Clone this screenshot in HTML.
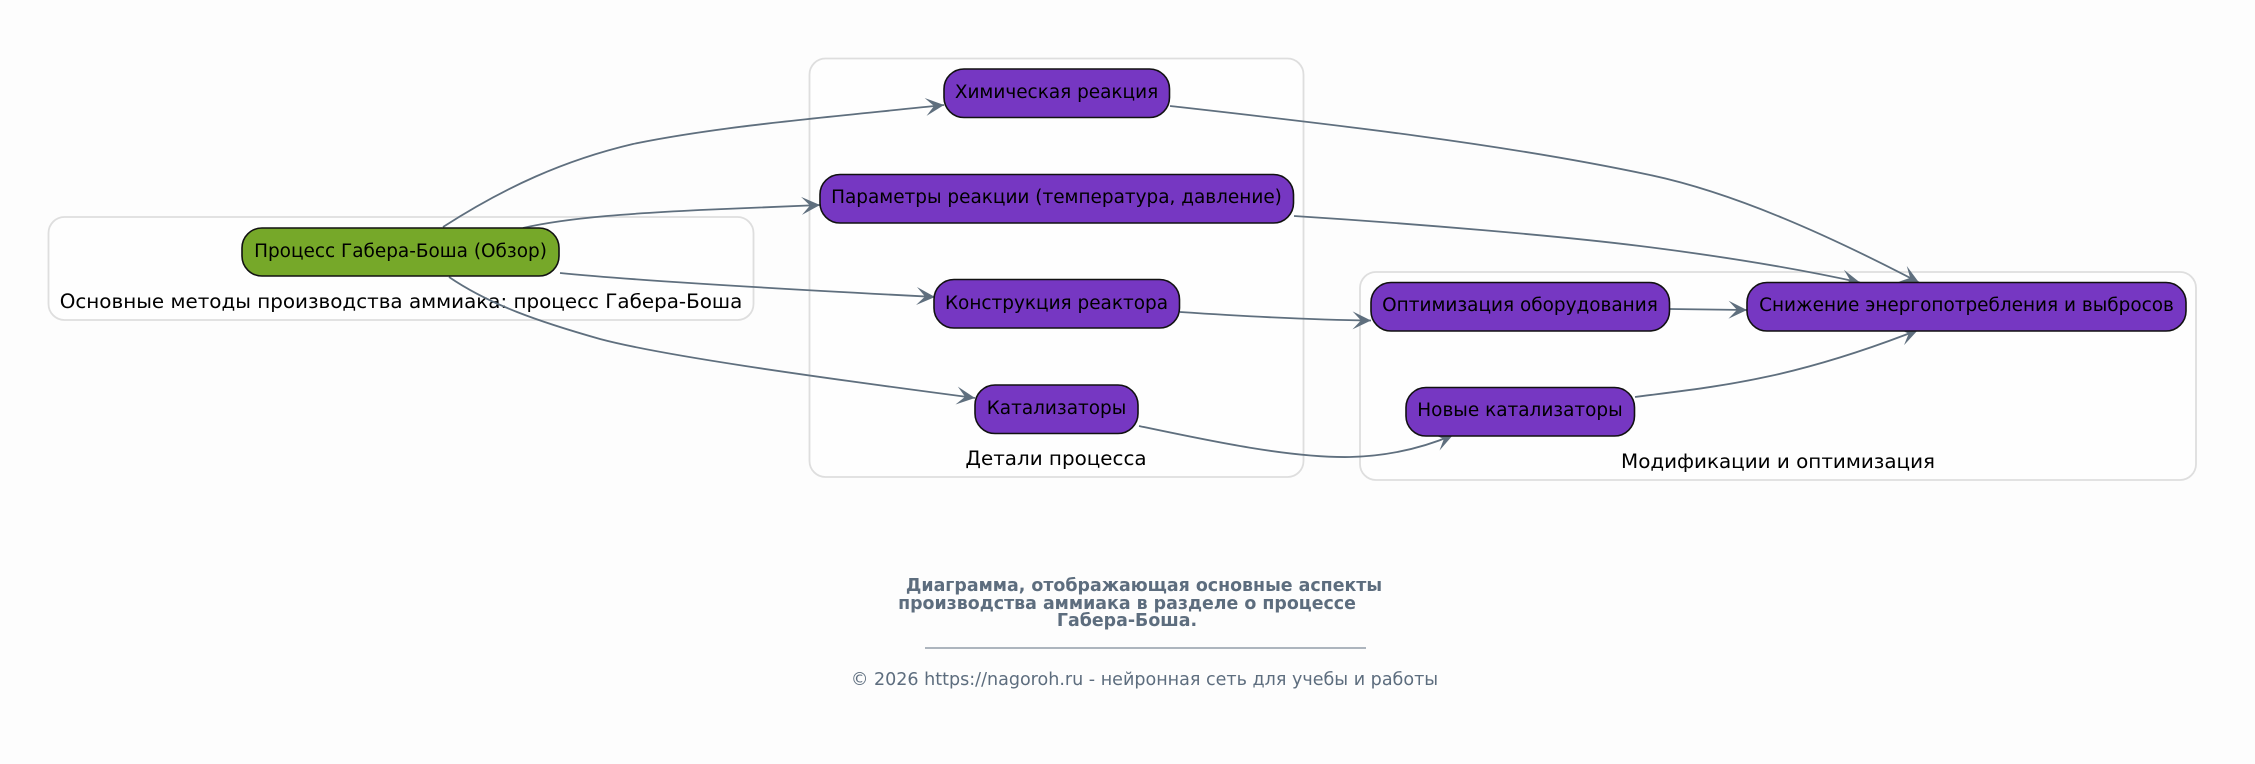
<!DOCTYPE html>
<html lang="ru"><head><meta charset="utf-8"><style>
html,body{margin:0;padding:0;background:#fdfdfd}
svg{display:block}
text{font-family:"DejaVu Sans",sans-serif;text-anchor:middle;fill:#000}
.c{fill:#fefefe;stroke:#dedede;stroke-width:1.8}
.n{fill:#7637c2;stroke:#111;stroke-width:1.6}
.g{fill:#76a829;stroke:#111;stroke-width:1.6}
.e{fill:none;stroke:#5f6f7e;stroke-width:1.8;marker-end:url(#a)}
.nt{font-size:18.45px}
.ct{font-size:19.9px}
.t{font-size:17.4px;font-weight:bold;fill:#5d6d7e}
.f{font-size:17.55px;fill:#5d6d7e}
</style></head><body>
<svg width="2255" height="764" viewBox="0 0 2255 764" xmlns="http://www.w3.org/2000/svg">
<defs><marker id="a" markerUnits="userSpaceOnUse" markerWidth="24" markerHeight="24" refX="19" refY="10" orient="auto"><path d="M0.5,1 L19,10 L0.5,19 L9,10 Z" fill="#5f6f7e"/></marker></defs>
<rect x="48.5" y="217" width="705" height="103" rx="16" class="c"/>
<rect x="809.5" y="58.5" width="494" height="418.5" rx="16" class="c"/>
<rect x="1360" y="272" width="836" height="208" rx="16" class="c"/>
<text x="401" y="308" class="ct">Основные методы производства аммиака: процесс Габера-Боша</text>
<text x="1056" y="465" class="ct">Детали процесса</text>
<text x="1778" y="468" class="ct">Модификации и оптимизация</text>
<path class="e" d="M443,227 C505,187 565,160 633,144 C720,126 830,117 944,105"/>
<path class="e" d="M523,228 C570,217 640,213 700,210 C740,208 780,207 820,205"/>
<path class="e" d="M560,273 C640,281 800,290 935,297"/>
<path class="e" d="M449,277 C490,305 540,322 600,339 C660,355 800,375 975,398"/>
<path class="e" d="M1170,106 C1320,123 1500,143 1650,175 C1735,193 1830,236 1919,282.5"/>
<path class="e" d="M1294,216 C1420,224 1560,236 1640,246 C1720,256 1790,267 1860,282.5"/>
<path class="e" d="M1180,312 C1240,316 1310,320 1371,320.5"/>
<path class="e" d="M1669.5,309 L1747,310"/>
<path class="e" d="M1635,397 C1720,386 1790,380 1918,330"/>
<path class="e" d="M1139,426 C1210,441 1290,458 1350,457 C1390,456 1425,447 1453,435"/>
<rect x="242" y="228" width="317" height="48" rx="20" class="g"/>
<rect x="944" y="69" width="225.5" height="48.5" rx="20" class="n"/>
<rect x="820" y="174.500" width="473.500" height="48.500" rx="20" class="n"/>
<rect x="934" y="279.500" width="245.500" height="48.500" rx="20" class="n"/>
<rect x="975" y="385" width="163" height="48.500" rx="20" class="n"/>
<rect x="1371" y="282.500" width="298.500" height="48.500" rx="20" class="n"/>
<rect x="1406" y="387.500" width="228.500" height="48.500" rx="20" class="n"/>
<rect x="1747" y="282.500" width="439" height="48.500" rx="20" class="n"/>
<text x="400.500" y="257" class="nt">Процесс Габера-Боша (Обзор)</text>
<text x="1056.500" y="98" class="nt">Химическая реакция</text>
<text x="1056.500" y="203" class="nt">Параметры реакции (температура, давление)</text>
<text x="1056.500" y="309" class="nt">Конструкция реактора</text>
<text x="1056.500" y="414" class="nt">Катализаторы</text>
<text x="1520" y="311" class="nt">Оптимизация оборудования</text>
<text x="1520" y="416" class="nt">Новые катализаторы</text>
<text x="1966.500" y="311" class="nt">Снижение энергопотребления и выбросов</text>
<text x="1144" y="591" class="t">Диаграмма, отображающая основные аспекты</text>
<text x="1127" y="609" class="t">производства аммиака в разделе о процессе</text>
<text x="1127" y="626" class="t">Габера-Боша.</text>
<line x1="925" y1="648" x2="1366" y2="648" stroke="#5d6d7e" stroke-width="1"/>
<text x="1144.500" y="685" class="f">© 2026 https://nagoroh.ru - нейронная сеть для учебы и работы</text>
</svg>
</body></html>
